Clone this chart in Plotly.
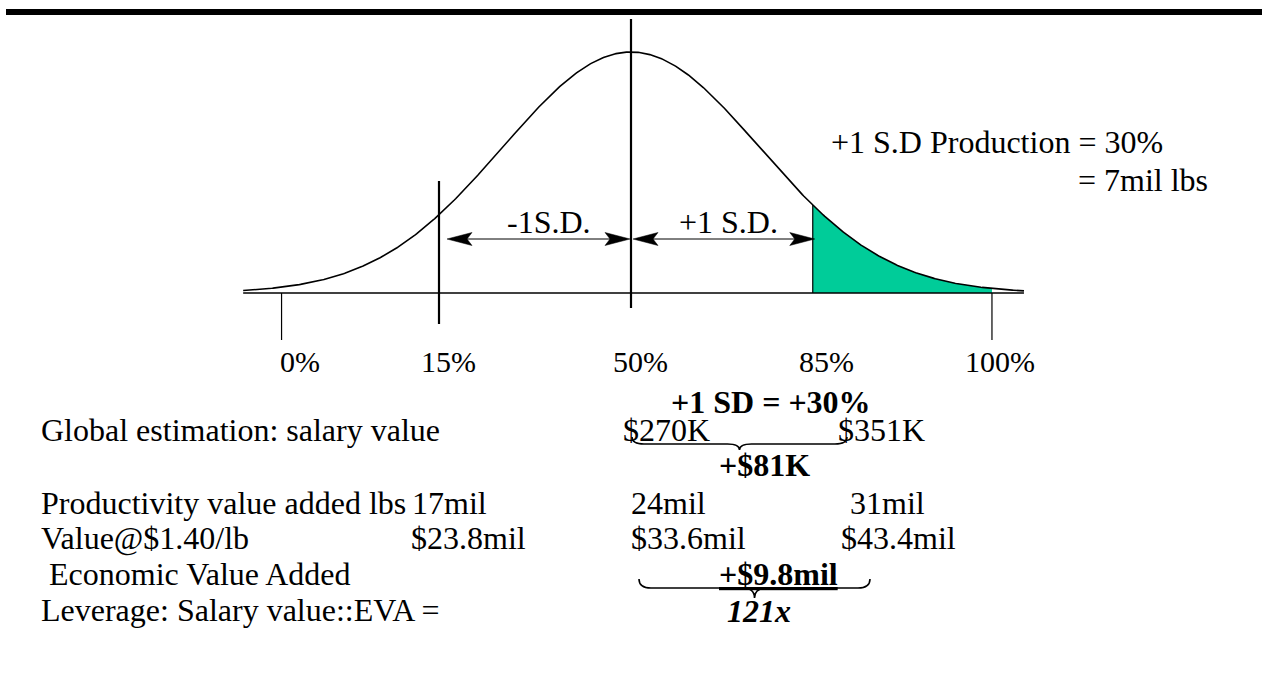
import numpy as np
import plotly.graph_objects as go

# ---------------- data ----------------
percentile_labels = ["0%", "15%", "50%", "85%", "100%"]
percentile_sd = [-2.73, -1.50, 0.0, 1.42, 2.82]      # where each percentile sits on the curve (SD units)
sd_labels = ["-1S.D.", "+1 S.D."]
production_note = ["+1 S.D Production = 30%", "= 7mil lbs"]
headline = "+1 SD = +30%"
row_labels = ["Global estimation: salary value", "Productivity value added lbs",
              "Value@$1.40/lb", " Economic Value Added", "Leverage: Salary value::EVA ="]
salary_values = ["$270K", "$351K"]
salary_gain = "+$81K"
lbs_values = ["17mil", "24mil", "31mil"]
dollar_values = ["$23.8mil", "$33.6mil", "$43.4mil"]
eva_gain = "+$9.8mil"
leverage = "121x"
curve_span = [-3.03, 3.07]

# ---------------- geometry (pixels) ----------------
W, H = 1262, 674
CX, SX = 631, 128          # pixel of mean, pixels per SD
BASE, PEAK = 293, 241      # baseline pixel, peak height in pixels
FONT = "Liberation Serif"
FS = 32
FS_PCT = 30
GREEN = "#00CC99"
LEFT = 39
pct_label_px = [300, 448, 640, 826, 1000]


def X(px):
    return (px - CX) / SX


def Y(py):
    return (BASE - py) / PEAK


def pdf(z):
    return np.exp(-np.asarray(z) ** 2 / 2.0)


fig = go.Figure()

# shaded tail (85% -> 100%)
zt = np.linspace(percentile_sd[3], percentile_sd[4], 120)
fig.add_trace(go.Scatter(
    x=np.concatenate([[zt[0]], zt, [zt[-1]]]),
    y=np.concatenate([[0], pdf(zt), [0]]),
    fill="toself", fillcolor=GREEN, mode="lines",
    line=dict(width=0), hoverinfo="skip", showlegend=False))

# bell curve
zc = np.linspace(curve_span[0], curve_span[1], 600)
fig.add_trace(go.Scatter(x=zc, y=pdf(zc), mode="lines",
                         line=dict(color="black", width=1.6),
                         hoverinfo="skip", showlegend=False))

shapes = []


def line(x0, y0, x1, y1, w=1.0):
    shapes.append(dict(type="line", xref="x", yref="y", x0=x0, y0=y0, x1=x1, y1=y1,
                       line=dict(color="black", width=w)))


# top rule
shapes.append(dict(type="rect", xref="paper", yref="paper", x0=6 / W, x1=1.0,
                   y0=1 - 15 / H, y1=1 - 9 / H, fillcolor="black", line=dict(width=0)))

# baseline
line(curve_span[0], 0, curve_span[1], 0, 1.6)
# mean line
line(percentile_sd[2], Y(19), percentile_sd[2], Y(308), 2.2)
# 15% line
line(percentile_sd[1], Y(181), percentile_sd[1], Y(324), 2.2)
# 0% and 100% ticks
line(percentile_sd[0], 0, percentile_sd[0], Y(340), 1.2)
line(percentile_sd[4], 0, percentile_sd[4], Y(340), 1.2)
# 85% edge of shaded region
line(percentile_sd[3], 0, percentile_sd[3], float(pdf(percentile_sd[3])), 1.2)

# double arrows
ARROW_Y = 239


def arrowhead(tip_px, direction):
    L, Wd, N = 25, 6.5, 20
    pts = [(tip_px, ARROW_Y),
           (tip_px - direction * L, ARROW_Y - Wd),
           (tip_px - direction * N, ARROW_Y),
           (tip_px - direction * L, ARROW_Y + Wd)]
    path = "M " + " L ".join(f"{X(a):.5f},{Y(b):.5f}" for a, b in pts) + " Z"
    shapes.append(dict(type="path", xref="x", yref="y", path=path,
                       fillcolor="black", line=dict(color="black", width=0.5)))


left_px = CX + SX * percentile_sd[1] + 8
mid_px = CX + SX * percentile_sd[2]
right_px = CX + SX * percentile_sd[3]
for a, b in [(left_px, mid_px - 1), (mid_px + 2, right_px + 2)]:
    line(X(a + 5), Y(ARROW_Y), X(b - 5), Y(ARROW_Y), 1.0)
    arrowhead(a, -1)
    arrowhead(b, 1)


# curly braces (cusp pointing down)
def brace(x0, x1, y_end, y_line, y_cusp, r=12):
    xm = (x0 + x1) / 2
    p = [f"M {X(x0)},{Y(y_end)}",
         f"Q {X(x0)},{Y(y_line)} {X(x0 + r)},{Y(y_line)}",
         f"L {X(xm - r)},{Y(y_line)}",
         f"Q {X(xm)},{Y(y_line)} {X(xm)},{Y(y_cusp)}",
         f"Q {X(xm)},{Y(y_line)} {X(xm + r)},{Y(y_line)}",
         f"L {X(x1 - r)},{Y(y_line)}",
         f"Q {X(x1)},{Y(y_line)} {X(x1)},{Y(y_end)}"]
    shapes.append(dict(type="path", xref="x", yref="y", path=" ".join(p),
                       line=dict(color="black", width=1.6)))


brace(632, 847, 437, 444, 450)
brace(639, 870, 579, 588, 598)

annotations = []


def text(t, xpx, ypx, anchor="left", size=FS):
    annotations.append(dict(text=t, x=X(xpx), y=Y(ypx), xref="x", yref="y",
                            xanchor=anchor, yanchor="middle", showarrow=False,
                            font=dict(family=FONT, size=size, color="black")))


# percentile labels
for lab, px in zip(percentile_labels, pct_label_px):
    text(lab, px, 361, "center", FS_PCT)

text(sd_labels[0], 549, 222, "center")
text(sd_labels[1], 728, 222, "center")
text(production_note[0], 829, 142)
text(production_note[1], 1076, 180)

text("<b>" + headline + "</b>", 771, 402, "center")
text(row_labels[0], LEFT, 430)
text(salary_values[0], 621, 430)
text(salary_values[1], 836, 430)
text("<b>" + salary_gain + "</b>", 764, 465, "center")

text(row_labels[1], LEFT, 503)
text(lbs_values[0], 410, 503)
text(lbs_values[1], 629, 503)
text(lbs_values[2], 848, 503)

text(row_labels[2], LEFT, 538)
text(dollar_values[0], 409, 538)
text(dollar_values[1], 629, 538)
text(dollar_values[2], 839, 538)

text(row_labels[3], LEFT, 574)
text("<b><u>" + eva_gain + "</u></b>", 778, 574, "center")

text(row_labels[4], LEFT, 610)
text("<b><i>" + leverage + "</i></b>", 759, 611, "center")

fig.update_layout(
    width=W, height=H, margin=dict(l=0, r=0, t=0, b=0),
    paper_bgcolor="white", plot_bgcolor="white",
    xaxis=dict(range=[X(0), X(W)], visible=False, fixedrange=True),
    yaxis=dict(range=[Y(H), Y(0)], visible=False, fixedrange=True),
    shapes=shapes, annotations=annotations, showlegend=False)

fig.write_html("out.html", config={"displayModeBar": False, "staticPlot": True},
               post_script="document.body.style.margin='0px';")
